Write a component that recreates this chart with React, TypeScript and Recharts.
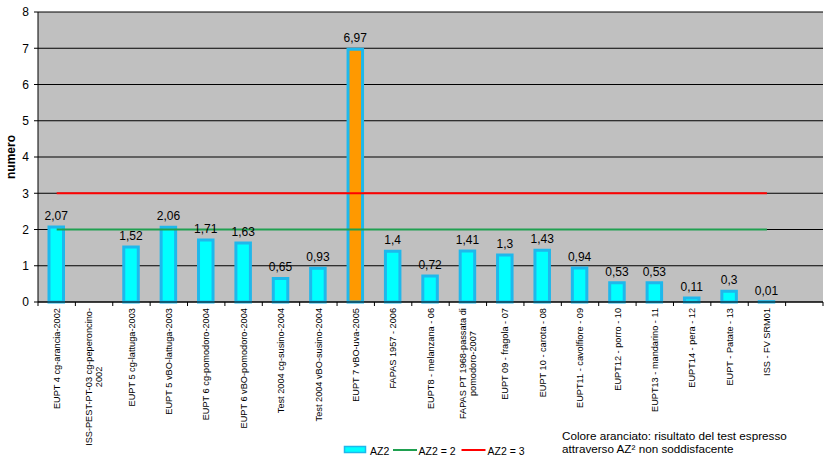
import React from 'react';
import {
  ComposedChart,
  Bar,
  Line,
  XAxis,
  YAxis,
  CartesianGrid,
  LabelList,
  Legend,
  Cell,
} from 'recharts';

const categories = [
  'EUPT 4 cg-arancia-2002',
  'ISS-PEST-PT-03 cg-peperoncino-\n2002',
  'EUPT 5 cg-lattuga-2003',
  'EUPT 5 vBO-lattuga-2003',
  'EUPT 6 cg-pomodoro-2004',
  'EUPT 6 vBO-pomodoro-2004',
  'Test 2004 cg-susino-2004',
  'Test 2004 vBO-susino-2004',
  'EUPT 7 vBO-uva-2005',
  'FAPAS 1957 - 2006',
  'EUPT8 - melanzana - 06',
  'FAPAS PT 1968-passata di\npomodoro-2007',
  'EUPT 09 - fragola - 07',
  'EUPT 10 - carota - 08',
  'EUPT11 - cavolfiore - 09',
  'EUPT12 - porro - 10',
  'EUPT13 - mandarino - 11',
  'EUPT14 - pera - 12',
  'EUPT - Patate - 13',
  'ISS - FV SRM01',
  '',
];

const az2Values = [
  2.07, null, 1.52, 2.06, 1.71, 1.63, 0.65, 0.93, 6.97, 1.4, 0.72, 1.41, 1.3,
  1.43, 0.94, 0.53, 0.53, 0.11, 0.3, 0.01, null,
];

const limitAz2Eq2 = [
  2, 2, 2, 2, 2, 2, 2, 2, 2, 2, 2, 2, 2, 2, 2, 2, 2, 2, 2, 2, null,
];

const limitAz2Eq3 = [
  3, 3, 3, 3, 3, 3, 3, 3, 3, 3, 3, 3, 3, 3, 3, 3, 3, 3, 3, 3, null,
];

const unsatisfactory = [
  0, 0, 0, 0, 0, 0, 0, 0, 1, 0, 0, 0, 0, 0, 0, 0, 0, 0, 0, 0, 0,
];

const yTicks = [0, 1, 2, 3, 4, 5, 6, 7, 8];

const data = categories.map((name, i) => ({
  name,
  az2: az2Values[i],
  limit2: limitAz2Eq2[i],
  limit3: limitAz2Eq3[i],
}));

const FONT = '"Liberation Sans", Arial, Helvetica, sans-serif';
const WIDTH = 830;
const HEIGHT = 461;
const MARGIN = { top: 12, right: 7, left: 0, bottom: 0 };
const Y_AXIS_W = 38;
const BAND = (WIDTH - Y_AXIS_W - MARGIN.right) / categories.length;

const BAR_FILL = '#00FFFF';
const BAR_STROKE = '#1EB8EC';
const BAR_FAIL = '#FF9900';
const GREEN = '#1FA050';
const RED = '#FF0000';

let measureCtx: CanvasRenderingContext2D | null = null;
function measure(s: string, fs: number): number {
  if (!measureCtx) {
    const c = document.createElement('canvas');
    measureCtx = c.getContext('2d');
  }
  if (!measureCtx) return s.length * fs * 0.5;
  measureCtx.font = `${fs}px ${FONT}`;
  return measureCtx.measureText(s).width;
}

const XTick = (props: any) => {
  const { x, y, payload, index } = props;
  const half = payload && payload.offset ? payload.offset : BAND / 2;
  const lines = String(payload.value).split('\n').filter((l: string) => l.length > 0);
  const fs = 9.2;
  const lh = 10;
  const maxW = lines.length ? Math.max(...lines.map((l: string) => measure(l, fs))) : 0;
  const top = y + 6;
  const center = top + maxW / 2;
  return (
    <g>
      <line x1={x - half} x2={x - half} y1={y} y2={y + 4} stroke="#000" strokeWidth={1} />
      {index === categories.length - 1 && (
        <line x1={x + half} x2={x + half} y1={y} y2={y + 4} stroke="#000" strokeWidth={1} />
      )}
      {lines.length > 0 && (
        <text
          transform={`translate(${x},${center}) rotate(-90)`}
          textAnchor="middle"
          fontSize={fs}
          fontFamily={FONT}
          fill="#000"
        >
          {lines.map((l: string, i: number) => (
            <tspan key={i} x={0} y={(i - (lines.length - 1) / 2) * lh + fs * 0.35}>
              {l}
            </tspan>
          ))}
        </text>
      )}
    </g>
  );
};

const YLabel = (props: any) => {
  const vb = props.viewBox || { x: 0, y: 0, width: 0, height: 0 };
  const cx = 11;
  const cy = vb.y + vb.height / 2;
  return (
    <text
      transform={`translate(${cx},${cy}) rotate(-90)`}
      textAnchor="middle"
      dominantBaseline="central"
      fontSize={12}
      fontWeight="bold"
      fontFamily={FONT}
      fill="#000"
    >
      numero
    </text>
  );
};

const LegendContent = () => (
  <svg width={WIDTH} height={36} style={{ display: 'block', overflow: 'visible' }}>
    <rect x={344.5} y={21.5} width={21} height={6} fill={BAR_FILL} stroke={BAR_STROKE} strokeWidth={1.5} />
    <text x={370} y={29.5} fontSize={10.5} fontFamily={FONT} fill="#000">AZ2</text>
    <line x1={393} x2={417} y1={25} y2={25} stroke={GREEN} strokeWidth={2} />
    <text x={418.5} y={29.5} fontSize={10.5} fontFamily={FONT} fill="#000">AZ2 = 2</text>
    <line x1={461.5} x2={485.5} y1={25} y2={25} stroke={RED} strokeWidth={2} />
    <text x={487.5} y={29.5} fontSize={10.5} fontFamily={FONT} fill="#000">AZ2 = 3</text>
    <text x={562} y={15} fontSize={11.7} fontFamily={FONT} fill="#000">
      Colore aranciato: risultato del test espresso
    </text>
    <text x={562} y={27.5} fontSize={11.7} fontFamily={FONT} fill="#000">
      attraverso AZ² non soddisfacente
    </text>
  </svg>
);

const fmt = (v: any) => (v == null || v === '' ? '' : String(v).replace('.', ','));

export default function App() {
  return (
    <div style={{ position: 'absolute', left: 0, top: 0, width: WIDTH, height: HEIGHT, background: '#fff' }}>
      <ComposedChart
        width={WIDTH}
        height={HEIGHT}
        data={data}
        margin={MARGIN}
        barCategoryGap={0}
        style={{ fontFamily: FONT }}
      >
        <CartesianGrid vertical={false} stroke="#000" strokeWidth={1} fill="#C0C0C0" fillOpacity={1} />
        <XAxis
          dataKey="name"
          interval={0}
          height={159}
          tickSize={0}
          tickMargin={0}
          tickLine={false}
          axisLine={{ stroke: '#000', strokeWidth: 1 }}
          tick={<XTick />}
        />
        <XAxis
          xAxisId="top"
          dataKey="name"
          orientation="top"
          height={0}
          tick={false}
          tickLine={false}
          axisLine={{ stroke: '#808080', strokeWidth: 1 }}
        />
        <YAxis
          width={Y_AXIS_W}
          domain={[0, 8]}
          ticks={yTicks}
          interval={0}
          tickSize={4}
          tickMargin={5}
          tick={{ fontSize: 12, fill: '#000', fontFamily: FONT }}
          tickLine={{ stroke: '#000' }}
          axisLine={{ stroke: '#000', strokeWidth: 1 }}
          label={<YLabel />}
        />
        <YAxis
          yAxisId="right"
          orientation="right"
          width={0}
          domain={[0, 8]}
          tick={false}
          tickLine={false}
          axisLine={{ stroke: '#808080', strokeWidth: 1 }}
        />
        <Bar
          dataKey="az2"
          name="AZ2"
          barSize={14.5}
          fill={BAR_FILL}
          stroke={BAR_STROKE}
          strokeWidth={3}
          isAnimationActive={false}
        >
          {data.map((d, i) => (
            <Cell key={i} fill={unsatisfactory[i] ? BAR_FAIL : BAR_FILL} stroke={BAR_STROKE} />
          ))}
          <LabelList
            dataKey="az2"
            position="top"
            offset={7}
            formatter={fmt}
            style={{ fontSize: 12, fill: '#000', fontFamily: FONT }}
          />
        </Bar>
        <Line
          dataKey="limit2"
          name="AZ2 = 2"
          stroke={GREEN}
          strokeWidth={2}
          dot={false}
          activeDot={false}
          isAnimationActive={false}
        />
        <Line
          dataKey="limit3"
          name="AZ2 = 3"
          stroke={RED}
          strokeWidth={2}
          dot={false}
          activeDot={false}
          isAnimationActive={false}
        />
        <Legend
          layout="horizontal"
          verticalAlign="middle"
          align="center"
          content={<LegendContent />}
          wrapperStyle={{ position: 'absolute', left: 0, top: 425, width: WIDTH, height: 36 }}
        />
      </ComposedChart>
    </div>
  );
}
